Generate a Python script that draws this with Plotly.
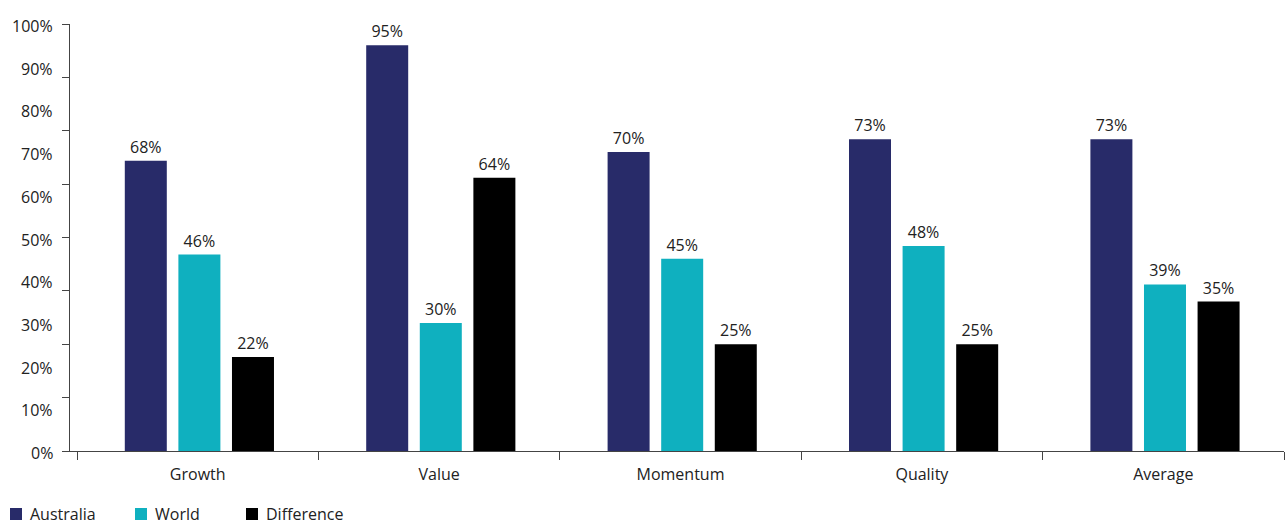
import plotly.graph_objects as go

categories = ["Growth", "Value", "Momentum", "Quality", "Average"]
australia = [0.68, 0.95, 0.70, 0.73, 0.73]
world = [0.46, 0.30, 0.45, 0.48, 0.39]
difference = [0.22, 0.64, 0.25, 0.25, 0.35]

label_vals = [i / 10 for i in range(11)]
label_text = [f"{i * 10}%" for i in range(11)]
mark_vals = [i / 8 for i in range(9)]

FONT = "Open Sans"
TEXT_COLOR = "#222222"
AXIS_COLOR = "#444444"

W, H = 1285, 525
M_L, M_R, M_T, M_B = 70, 1, 24, 74
PLOT_W = W - M_L - M_R
PLOT_H = H - M_T - M_B

KEY_MID_Y = 514  # vertical centre of the legend row, px from top


def px_to_paper_x(px):
    return (px - M_L) / PLOT_W


def px_to_paper_y(py):
    return (H - M_B - py) / PLOT_H


# name, values, colour, bar offset within the category slot, legend key x (px)
series = [
    ("Australia", australia, "#282b69", -0.302, 10),
    ("World", world, "#0fb0bf", -0.080, 135),
    ("Difference", difference, "#000000", 0.142, 246),
]
BAR_WIDTH = 0.174

fig = go.Figure()
for name, vals, color, off, key_x in series:
    fig.add_trace(go.Bar(
        name=name,
        x=categories,
        y=vals,
        offset=off,
        width=BAR_WIDTH,
        marker=dict(color=color, line=dict(width=0)),
        text=[f"{round(v * 100)}%" for v in vals],
        textposition="outside",
        textfont=dict(family=FONT, size=16, color=TEXT_COLOR),
        cliponaxis=False,
        showlegend=False,
    ))
    # legend key: colour square plus series name along the bottom edge
    fig.add_shape(
        type="rect", xref="paper", yref="paper",
        x0=px_to_paper_x(key_x), x1=px_to_paper_x(key_x + 12),
        y0=px_to_paper_y(KEY_MID_Y + 6), y1=px_to_paper_y(KEY_MID_Y - 6),
        fillcolor=color, line=dict(width=0),
    )
    fig.add_annotation(
        x=px_to_paper_x(key_x + 19), xref="paper", xanchor="left",
        y=px_to_paper_y(KEY_MID_Y), yref="paper", yanchor="middle",
        text=name, showarrow=False, borderpad=0,
        font=dict(family=FONT, size=16, color=TEXT_COLOR),
    )

# percentage labels on the value axis
for v, t in zip(label_vals, label_text):
    fig.add_annotation(
        x=0, xref="paper", xanchor="right", xshift=-15,
        y=v, yref="y", yanchor="middle", yshift=-2,
        text=t, showarrow=False,
        font=dict(family=FONT, size=16, color=TEXT_COLOR),
    )

fig.update_layout(
    width=W,
    height=H,
    margin=dict(l=M_L, r=M_R, t=M_T, b=M_B),
    paper_bgcolor="white",
    plot_bgcolor="white",
    barmode="group",
    font=dict(family=FONT, size=16, color=TEXT_COLOR),
    showlegend=False,
    xaxis=dict(
        range=[-0.529, 4.5],
        showline=True,
        linecolor=AXIS_COLOR,
        linewidth=1.3,
        ticks="outside",
        tickson="boundaries",
        ticklen=8,
        tickcolor=AXIS_COLOR,
        ticklabelstandoff=9,
        tickfont=dict(family=FONT, size=16, color=TEXT_COLOR),
        showgrid=False,
        zeroline=False,
    ),
    yaxis=dict(
        range=[0, 1],
        showline=True,
        linecolor=AXIS_COLOR,
        linewidth=1.3,
        tickmode="array",
        tickvals=mark_vals,
        ticks="outside",
        ticklen=7,
        tickcolor=AXIS_COLOR,
        showticklabels=False,
        showgrid=False,
        zeroline=False,
    ),
)

fig.write_html("out.html")
